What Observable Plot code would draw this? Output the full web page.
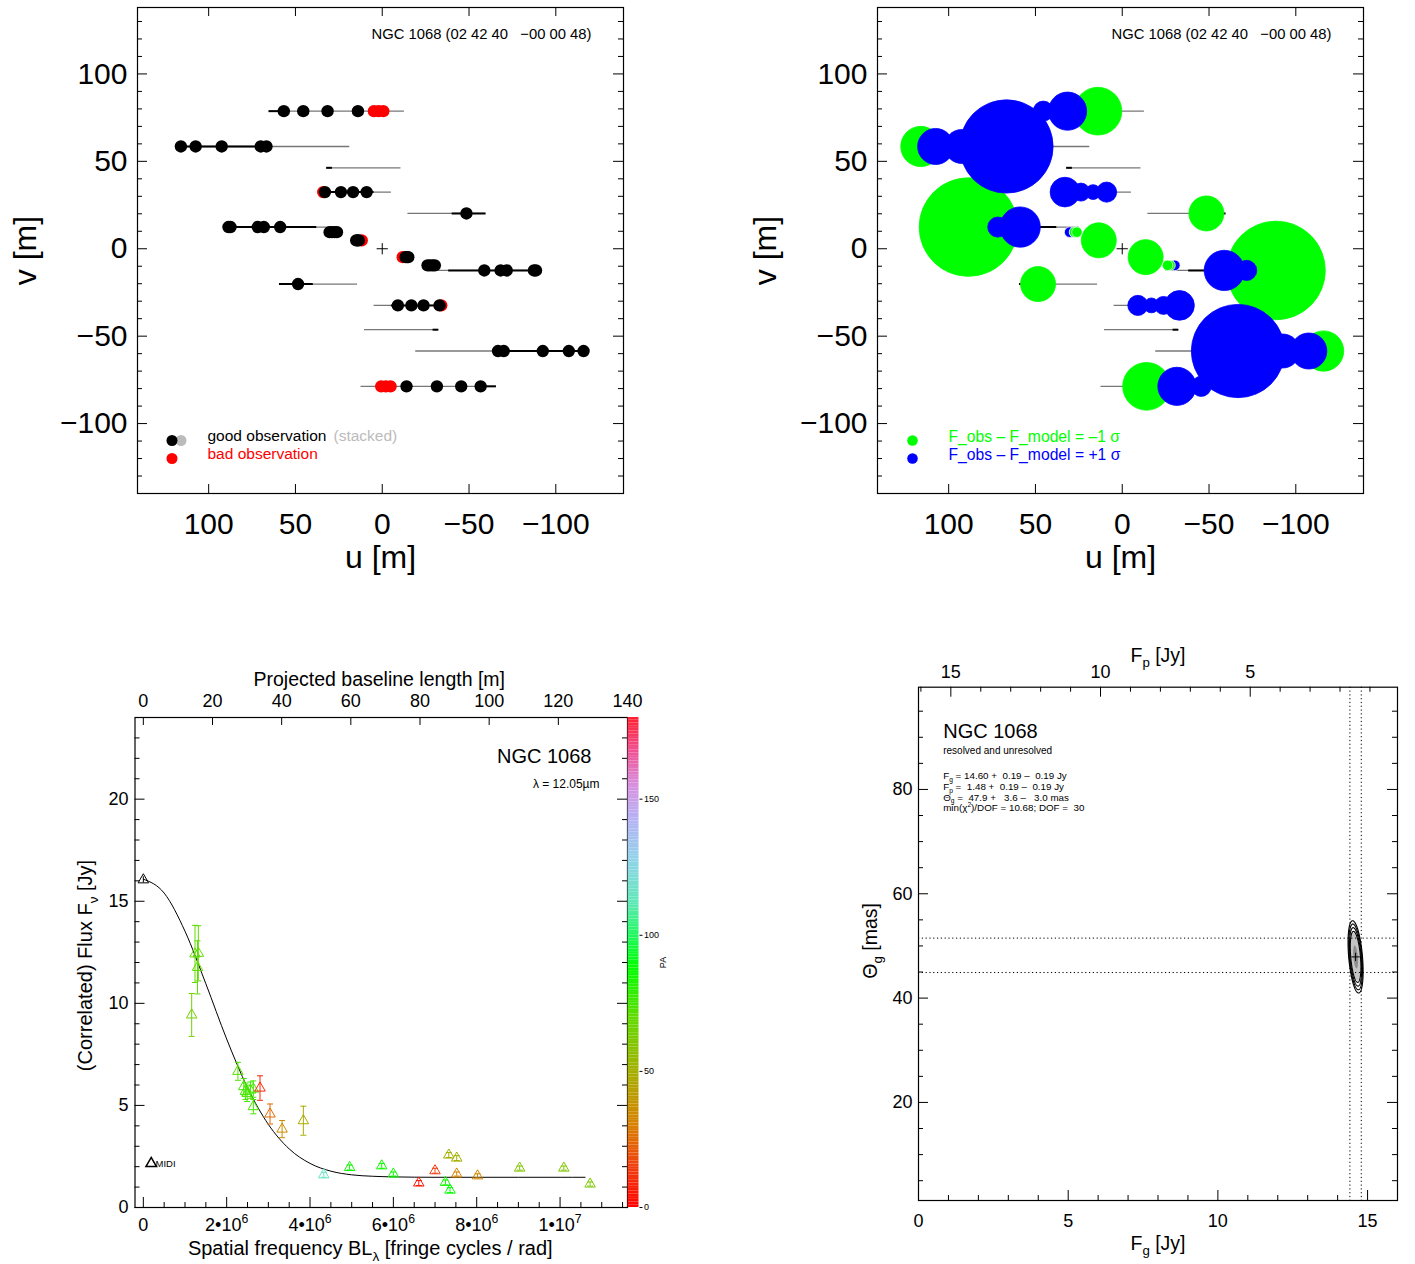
<!DOCTYPE html>
<html>
<head>
<meta charset="utf-8">
<script src="https://cdn.jsdelivr.net/npm/d3@7"></script>
<script src="https://cdn.jsdelivr.net/npm/@observablehq/plot@0.6"></script>
<style>
html, body { margin:0; padding:0; background:#fff; }
#root { position:relative; width:1415px; height:1264px; overflow:hidden; background:#fff; }
.panel { position:absolute; }
.panel svg { display:block; max-width:none; }
</style>
</head>
<body>
<div id="root"></div>
<script>
// ====================== DATA ======================
const objectHeader = "NGC 1068 (02 42 40\u00a0\u00a0\u00a0\u221200 00 48)";

// uv tracks (upper half; the conjugate (-u,-v) is drawn too)
const trackV        = [78.7, 58.5, 46.3, 32.4, 20.2, 12.4];
const trackFrom     = [65.5, 118.5, 32.3, 35, -14.5, 90];
const trackTo       = [-12.5, 19, -10.5, -5, -59.5, 25];
const trackObsFrom  = [65.5, 118.5, 32.3, 35, -40, 90];
const trackObsTo    = [58, 65, 29, 5, -59.5, 38];

// observations (upper half)
const goodU = [56.7, 45.5, 31.5, 14, 116, 107.5, 92.5, 70, 66.7, 33, 23.8, 16.8, 9, -48.5, 88.6, 87.4, 71.7, 68.2, 58.8, 30.3, 29, 27.5, 26.1, 15, 14.3, 13.5];
const goodV = [78.7, 78.7, 78.7, 78.7, 58.5, 58.5, 58.5, 58.5, 58.5, 32.4, 32.4, 32.4, 32.4, 20.2, 12.4, 12.4, 12.4, 12.4, 12.4, 9.5, 9.5, 9.5, 9.5, 4.8, 4.8, 4.8];
const badU  = [4.8, 2.1, -0.6, 34, 11.8];
const badV  = [78.7, 78.7, 78.7, 32.4, 4.8];

// residuals F_obs - F_model in units of sigma (upper half, in drawing order)
const resU     = [88.6, 71.7, 58.8, 66.7, 92.5, 107.5, 116, 14, 31.5, 45.5, 33, 23.8, 16.8, 9, -48.5, 30.3, 27.5, 26.1, 13.5];
const resV     = [12.4, 12.4, 12.4, 58.5, 58.5, 58.5, 58.5, 78.7, 78.7, 78.7, 32.4, 32.4, 32.4, 32.4, 20.2, 9.5, 9.5, 9.5, 4.8];
const resSigma = [-9.3, 1.9, 3.8, 8.8, 3.2, 3.4, -3.8, -4.5, 3.6, 1.9, 2.8, 1.7, 1.4, 1.9, -3.3, 1.0, -1.0, -1.0, -3.3];

// correlated flux vs spatial frequency (q in units of 1e6 fringe cycles / rad)
const lambdaMicron = 12.05;
const midiQ = [0], midiF = [16.05], midiErr = [0.15];
const fluxQ   = [1.16, 1.24, 1.32, 1.30, 2.27, 2.41, 2.45, 2.49, 2.57, 2.64, 2.64, 2.80, 3.04, 3.33, 3.84, 4.33, 4.95, 5.72, 6.00, 6.61, 7.00, 7.25, 7.36, 7.33, 7.52, 7.52, 8.02, 9.03, 10.09, 10.72];
const fluxF   = [9.43, 12.42, 12.45, 11.76, 6.67, 5.92, 5.69, 5.59, 5.75, 5.80, 4.94, 5.85, 4.58, 3.84, 4.25, 1.60, 1.96, 2.04, 1.64, 1.20, 1.80, 1.23, 0.85, 2.57, 2.42, 1.64, 1.55, 1.93, 1.93, 1.15];
const fluxErr = [1.05, 1.4, 1.35, 1.3, 0.44, 0.4, 0.4, 0.4, 0.4, 0.4, 0.35, 0.6, 0.49, 0.42, 0.71, 0.12, 0.12, 0.12, 0.1, 0.12, 0.12, 0.12, 0.12, 0.12, 0.12, 0.1, 0.1, 0.1, 0.1, 0.1];
const fluxPA  = [65, 70, 70, 70, 72, 75, 75, 74, 76, 75, 75, 10, 25, 35, 48, 115, 85, 85, 86, 5, 15, 85, 88, 50, 50, 30, 33, 60, 60, 62];
// model curve
const curveQ = [0, 0.5, 1.0, 1.5, 2.0, 2.5, 3.0, 3.5, 4.0, 4.5, 5.0, 5.5, 6.0, 7.0, 8.0, 9.0, 10.0, 10.6];
const curveF = [16.08, 15.40, 13.53, 10.96, 8.25, 5.87, 4.07, 2.87, 2.16, 1.78, 1.60, 1.53, 1.50, 1.48, 1.48, 1.48, 1.48, 1.48];
// PA colour bar
const paStops  = [0, 15, 30, 50, 70, 88, 100, 112, 127, 142, 155, 168, 180];
const paColors = ["#ff0000", "#f04010", "#d88000", "#a4b000", "#60dc00", "#00ff00", "#20f860", "#60e8b8", "#90d4e8", "#b4b4f4", "#d890e0", "#f05090", "#ff2030"];
const paTicks = [0, 50, 100, 150];
const baselineTicks = [0, 20, 40, 60, 80, 100, 120, 140];

// fit results (bottom-right)
const fitNames  = ["F_{g}", "F_{p}", "\u0398_{g}"];
const fitVal    = [14.60, 1.48, 47.9];
const fitPlus   = [0.19, 0.19, 3.6];
const fitMinus  = [0.19, 0.19, 3.0];
const fitUnits  = ["Jy", "Jy", "mas"];
const fitDigits = [2, 2, 1];
const chi2dof = 10.68, dof = 30;
// chi2 contour shape: levels in units of the base ellipse
const contourLevels = [2.2, 2.0, 1.78, 1.55];
const shadeLevels = [1.45, 0.7];
const ellA = 3.15;    // mas (Theta_g semi-axis of base ellipse)
const ellB = 0.105;   // Jy  (F_g semi-axis of base ellipse)
const ellTilt = -0.0145; // Jy per mas

// ====================== HELPERS ======================
const FONT = '"Liberation Sans", Arial, Helvetica, sans-serif';
const root = document.getElementById("root");

function richText(svg) {
  svg.querySelectorAll("text").forEach(t => {
    const s = t.textContent;
    if (!/[_^]\{/.test(s)) return;
    const fs = parseFloat(getComputedStyle(t).fontSize) || 12;
    const parts = s.split(/([_^]\{[^}]*\})/).filter(p => p.length);
    while (t.firstChild) t.removeChild(t.firstChild);
    let shift = 0;
    for (const p of parts) {
      const ts = document.createElementNS("http://www.w3.org/2000/svg", "tspan");
      let target = 0, txt = p;
      if (p.startsWith("_{")) { target = 0.28 * fs; txt = p.slice(2, -1); ts.setAttribute("font-size", 0.68 * fs); }
      else if (p.startsWith("^{")) { target = -0.45 * fs; txt = p.slice(2, -1); ts.setAttribute("font-size", 0.68 * fs); }
      if (target !== shift) ts.setAttribute("dy", target - shift);
      shift = target;
      ts.textContent = txt;
      t.appendChild(ts);
    }
  });
}
function place(svg, left, top, w) {
  const d = document.createElement("div");
  d.className = "panel";
  d.style.left = left + "px"; d.style.top = top + "px"; d.style.width = w + "px";
  d.appendChild(svg); root.appendChild(d);
  richText(svg);
}
const ticksBottom = (vals, H, len) => Plot.ruleX(vals, {insetTop: H - len, stroke: "black"});
const ticksTop    = (vals, H, len) => Plot.ruleX(vals, {insetBottom: H - len, stroke: "black"});
const ticksLeft   = (vals, W, len) => Plot.ruleY(vals, {insetRight: W - len, stroke: "black"});
const ticksRight  = (vals, W, len) => Plot.ruleY(vals, {insetLeft: W - len, stroke: "black"});
const label = (txt, o) => Plot.text([txt], {lineAnchor: "middle", textAnchor: "middle", ...o});

// ====================== uv PANELS ======================
const trackRows = [];
trackV.forEach((v, i) => {
  trackRows.push({v, u1: trackFrom[i], u2: trackTo[i], b1: trackObsFrom[i], b2: trackObsTo[i]});
  trackRows.push({v: -v, u1: -trackFrom[i], u2: -trackTo[i], b1: -trackObsFrom[i], b2: -trackObsTo[i]});
});
const conj = (us, vs, ss) => us.flatMap((u, i) => [
  {u, v: vs[i], s: ss ? ss[i] : null}, {u: -u, v: -vs[i], s: ss ? ss[i] : null}
]);
const goodPts = conj(goodU, goodV);
const badPts = conj(badU, badV);
const resPts = conj(resU, resV, resSigma);
const origin = [{u: 0, v: 0}];

function uvPanel(kind) {
  const W = 486, H = 486;
  const yMaj = [-100, -50, 0, 50, 100];
  const yMin = d3.range(-130, 131, 10).filter(v => v % 50 !== 0);
  const xMaj = [100, 50, 0, -50, -100];
  const marks = [
    Plot.link(trackRows, {x1: "u1", x2: "u2", y1: "v", y2: "v", stroke: "#777", strokeWidth: 1.3}),
    Plot.link(trackRows, {x1: "b1", x2: "b2", y1: "v", y2: "v", stroke: "#000", strokeWidth: 2})
  ];
  if (kind === "obs") {
    marks.push(
      Plot.dot(badPts, {x: "u", y: "v", r: 6.2, fill: "#ff0000"}),
      Plot.dot(goodPts, {x: "u", y: "v", r: 6.2, fill: "#000000"}),
      Plot.dot([1], {frameAnchor: "top-left", dx: 43.5, dy: 433, r: 5.5, fill: "#bbbbbb"}),
      Plot.dot([1], {frameAnchor: "top-left", dx: 34.5, dy: 433, r: 5.5, fill: "#000000"}),
      Plot.dot([1], {frameAnchor: "top-left", dx: 34.5, dy: 451, r: 5.5, fill: "#ff0000"}),
      label("good observation", {frameAnchor: "top-left", textAnchor: "start", dx: 70, dy: 429, fontSize: 15.5, fill: "#000"}),
      label("(stacked)", {frameAnchor: "top-left", textAnchor: "start", dx: 196, dy: 429, fontSize: 15.5, fill: "#bbbbbb"}),
      label("bad observation", {frameAnchor: "top-left", textAnchor: "start", dx: 70, dy: 447, fontSize: 15.5, fill: "#ff0000"})
    );
  } else {
    marks.push(
      Plot.dot(resPts, {x: "u", y: "v", r: d => Math.abs(d.s),
        fill: d => d.s < 0 ? "#00ff00" : "#0000ff",
        stroke: d => Math.abs(d.s) <= 1.05 ? "#ffffff" : (d.s < 0 ? "#00ff00" : "#0000ff"), strokeWidth: 0.8}),
      Plot.dot([1], {frameAnchor: "top-left", dx: 35, dy: 433, r: 5.3, fill: "#00ff00"}),
      Plot.dot([1], {frameAnchor: "top-left", dx: 35, dy: 451, r: 5.3, fill: "#0000ff"}),
      label("F_obs \u2013 F_model = \u20131 \u03c3", {frameAnchor: "top-left", textAnchor: "start", dx: 71, dy: 429, fontSize: 15.7, fill: "#00ff00"}),
      label("F_obs \u2013 F_model = +1 \u03c3", {frameAnchor: "top-left", textAnchor: "start", dx: 71, dy: 447, fontSize: 15.7, fill: "#0000ff"})
    );
  }
  marks.push(
    Plot.dot(origin, {x: "u", y: "v", symbol: "plus", r: 3.7, stroke: "black", strokeWidth: 1}),
    label(objectHeader, {frameAnchor: "top-right", textAnchor: "end", dx: -32, dy: 27, fontSize: 14.8}),
    Plot.frame({stroke: "black", strokeWidth: 1.2}),
    ticksLeft(yMaj, W, 10), ticksLeft(yMin, W, 5),
    ticksRight(yMaj, W, 10), ticksRight(yMin, W, 5),
    ticksBottom(xMaj, H, 9), ticksTop(xMaj, H, 9),
    Plot.axisX({anchor: "bottom", ticks: xMaj, tickSize: 0, tickPadding: 19, fontSize: 30, label: null}),
    Plot.axisY({anchor: "left", ticks: yMaj, tickSize: 0, tickPadding: 10, fontSize: 30, label: null}),
    label("u [m]", {frameAnchor: "bottom", dy: 64, fontSize: 32}),
    label("v [m]", {frameAnchor: "left", dx: -112, dy: 0, rotate: -90, fontSize: 32})
  );
  return Plot.plot({
    width: kind === "obs" ? 700 : 675, height: 590,
    marginLeft: 137, marginRight: kind === "obs" ? 77 : 52, marginTop: 7, marginBottom: 97,
    x: {domain: [141, -139], label: null},
    y: {domain: [-140, 138], label: null},
    r: {type: "linear", domain: [0, 1], range: [0, 5.3]},
    style: {fontFamily: FONT, fontSize: "30px", background: "transparent", color: "black", overflow: "visible"},
    marks
  });
}
place(uvPanel("obs"), 0, 0, 700);
place(uvPanel("res"), 740, 0, 675);

// ====================== FLUX PANEL ======================
const colorOpts = {type: "linear", domain: paStops, range: paColors, interpolate: "rgb"};
const fluxPts = fluxQ.map((q, i) => ({q, f: fluxF[i], e: fluxErr[i], pa: fluxPA[i]}));
const midiPts = midiQ.map((q, i) => ({q, f: midiF[i], e: midiErr[i]}));
const curvePts = curveQ.map((q, i) => ({q, f: curveF[i]}));
const capSymbol = {draw(ctx) { ctx.moveTo(-3, 0); ctx.lineTo(3, 0); }};
{
  const W = 492.5, H = 490;
  const qMax = 140 / lambdaMicron;
  const xMaj = [0, 2, 4, 6, 8, 10];
  const xMin = d3.range(0.5, 11.6, 0.5).filter(v => v % 2 !== 0);
  const yMaj = [0, 5, 10, 15, 20];
  const yMin = d3.range(1, 24, 1).filter(v => v % 5 !== 0);
  const topTicks = baselineTicks.map(b => b / lambdaMicron);
  const svg = Plot.plot({
    width: 700, height: 624,
    marginLeft: 134.5, marginRight: 73, marginTop: 77, marginBottom: 57,
    x: {domain: [-0.2, qMax], label: null},
    y: {domain: [0, 24], label: null},
    color: colorOpts,
    style: {fontFamily: FONT, fontSize: "18px", background: "transparent", color: "black", overflow: "visible"},
    marks: [
      Plot.line(curvePts, {x: "q", y: "f", curve: "monotone-x", stroke: "black", strokeWidth: 1}),
      Plot.ruleX(fluxPts, {x: "q", y1: d => d.f - d.e, y2: d => d.f + d.e, stroke: "pa", strokeWidth: 1}),
      Plot.dot(fluxPts, {x: "q", y: d => d.f - d.e, symbol: capSymbol, stroke: "pa", fill: "none", strokeWidth: 1}),
      Plot.dot(fluxPts, {x: "q", y: d => d.f + d.e, symbol: capSymbol, stroke: "pa", fill: "none", strokeWidth: 1}),
      Plot.dot(fluxPts, {x: "q", y: "f", symbol: "triangle", r: 3.9, stroke: "pa", fill: "none", strokeWidth: 1}),
      Plot.ruleX(midiPts, {x: "q", y1: d => d.f - d.e, y2: d => d.f + d.e, stroke: "black"}),
      Plot.dot(midiPts, {x: "q", y: "f", symbol: "triangle", r: 3.9, stroke: "black", fill: "none", strokeWidth: 1}),
      Plot.dot([1], {frameAnchor: "bottom-left", dx: 16.2, dy: -44, symbol: "triangle", r: 3.9, stroke: "black", fill: "none"}),
      label("MIDI", {frameAnchor: "bottom-left", textAnchor: "start", dx: 20.5, dy: -44, fontSize: 9.5}),
      label("NGC 1068", {frameAnchor: "top-right", textAnchor: "end", dx: -36, dy: 39, fontSize: 20}),
      label("\u03bb = " + lambdaMicron.toFixed(2) + "\u00b5m", {frameAnchor: "top-right", textAnchor: "end", dx: -28, dy: 67, fontSize: 12}),
      Plot.frame({stroke: "black", strokeWidth: 1.2}),
      ticksBottom(xMaj, H, 10), ticksBottom(xMin, H, 5),
      ticksTop(topTicks, H, 8),
      ticksLeft(yMaj, W, 10), ticksLeft(yMin, W, 5),
      ticksRight(yMaj, W, 10), ticksRight(yMin, W, 5),
      Plot.axisX({anchor: "bottom", ticks: xMaj, tickSize: 0, tickPadding: 10.5, fontSize: 18, label: null,
        tickFormat: d => d === 0 ? "0" : d === 10 ? "1\u202210^{7}" : `${d}\u202210^{6}`}),
      Plot.axisX({anchor: "top", ticks: topTicks, tickSize: 0, tickPadding: 11, fontSize: 18, label: null,
        tickFormat: d => String(Math.round(d * lambdaMicron))}),
      Plot.axisY({anchor: "left", ticks: yMaj, tickSize: 0, tickPadding: 6.5, fontSize: 18, label: null}),
      label("Spatial frequency BL_{\u03bb} [fringe cycles / rad]", {frameAnchor: "bottom", dx: -11, dy: 41, fontSize: 20}),
      label("Projected baseline length [m]", {frameAnchor: "top", dx: -2, dy: -38, fontSize: 19.5}),
      label("(Correlated) Flux F_{\u03bd} [Jy]", {frameAnchor: "left", dx: -49.5, dy: 3, rotate: -90, fontSize: 20})
    ]
  });
  place(svg, 0, 640, 700);

  // colour bar
  const paBins = d3.range(0, 180, 1);
  const bar = Plot.plot({
    width: 100, height: 624,
    marginLeft: 27.5, marginRight: 61.5, marginTop: 77, marginBottom: 57,
    x: {domain: [0, 1], axis: null},
    y: {domain: [0, 180], label: null},
    color: colorOpts,
    style: {fontFamily: FONT, fontSize: "9px", background: "transparent", color: "black", overflow: "visible"},
    marks: [
      Plot.rect(paBins, {x1: () => 0, x2: () => 1, y1: d => d, y2: d => d + 1, fill: d => d + 0.5}),
      Plot.axisY({anchor: "right", ticks: paTicks, tickSize: 3, tickPadding: 2, fontSize: 9, label: null}),
      label("PA", {frameAnchor: "right", dx: 24, dy: 0, rotate: -90, fontSize: 9})
    ]
  });
  place(bar, 600, 640, 100);
}

// ====================== FIT PANEL ======================
{
  const W = 479, H = 513.3;
  const fTot = fitVal[0] + fitVal[1];
  const ellT = d3.range(0, 2 * Math.PI + 1e-9, Math.PI / 90);
  const ellipse = m => ellT.map(t => ({
    fg: fitVal[0] + m * ellB * Math.cos(t) + ellTilt * m * ellA * Math.sin(t),
    th: fitVal[2] + m * ellA * Math.sin(t), m
  }));
  const shadeColors = ["#c4c4c4", "#8e8e8e"];
  const fgBand = [fitVal[0] - fitMinus[0], fitVal[0] + fitPlus[0]];
  const thBand = [fitVal[2] - fitMinus[2], fitVal[2] + fitPlus[2]];
  const pad = (x, n) => "\u00a0".repeat(Math.max(0, n - x.length)) + x;
  const fitLines = fitNames.map((n, i) =>
    `${n} = ${pad(fitVal[i].toFixed(fitDigits[i]), 5)} + ${pad(fitPlus[i].toFixed(fitDigits[i]), 5)} \u2013 ${pad(fitMinus[i].toFixed(fitDigits[i]), 5)} ${fitUnits[i]}`);
  fitLines.push(`min(\u03c7^{2})/DOF = ${chi2dof.toFixed(2)}; DOF = ${pad(String(dof), 3)}`);
  const xMaj = [0, 5, 10, 15], xMin = d3.range(1, 16, 1).filter(v => v % 5 !== 0);
  const fpMaj = [5, 10, 15], fpMin = d3.range(1, 17, 1).filter(v => v % 5 !== 0);
  const topMaj = fpMaj.map(p => fTot - p), topMin = fpMin.map(p => fTot - p).filter(v => v > 0 && v < 16);
  const yMaj = [20, 40, 60, 80], yMin = d3.range(5, 100, 5).filter(v => v % 20 !== 0);
  const marks = [];
  shadeLevels.forEach((m, i) => marks.push(Plot.line(ellipse(m), {x: "fg", y: "th", fill: shadeColors[i], stroke: "none"})));
  contourLevels.forEach(m => marks.push(Plot.line(ellipse(m), {x: "fg", y: "th", stroke: "black", strokeWidth: 1.1})));
  marks.push(
    Plot.ruleX(fgBand, {stroke: "black", strokeDasharray: "1.2,2.6", strokeWidth: 1}),
    Plot.ruleY(thBand, {stroke: "black", strokeDasharray: "1.2,2.6", strokeWidth: 1}),
    Plot.dot([{fg: fitVal[0], th: fitVal[2]}], {x: "fg", y: "th", symbol: "plus", r: 2.8, stroke: "black", strokeWidth: 1}),
    label("NGC 1068", {frameAnchor: "top-left", textAnchor: "start", dx: 24.7, dy: 44.3, fontSize: 20}),
    label("resolved and unresolved", {frameAnchor: "top-left", textAnchor: "start", dx: 24.7, dy: 63.3, fontSize: 10}),
    ...fitLines.map((t, i) => label(t, {frameAnchor: "top-left", textAnchor: "start", dx: 24.7, dy: 89 + i * 10.7, fontSize: 9.8})),
    Plot.frame({stroke: "black", strokeWidth: 1.2}),
    ticksBottom(xMaj, H, 10), ticksBottom(xMin, H, 5),
    ticksTop(topMaj, H, 10), ticksTop(topMin, H, 5),
    ticksLeft(yMaj, W, 10), ticksLeft(yMin, W, 5),
    ticksRight(yMaj, W, 10), ticksRight(yMin, W, 5),
    Plot.axisX({anchor: "bottom", ticks: xMaj, tickSize: 0, tickPadding: 13.7, fontSize: 18, label: null}),
    Plot.axisX({anchor: "top", ticks: topMaj, tickSize: 0, tickPadding: 9, fontSize: 18, label: null,
      tickFormat: d => String(Math.round(fTot - d))}),
    Plot.axisY({anchor: "left", ticks: yMaj, tickSize: 0, tickPadding: 6, fontSize: 18, label: null}),
    label("F_{g} [Jy]", {frameAnchor: "bottom", dy: 43, fontSize: 19.5}),
    label("F_{p} [Jy]", {frameAnchor: "top", dy: -31.7, fontSize: 19.5}),
    label("\u0398_{g} [mas]", {frameAnchor: "left", dx: -48, dy: -3, rotate: -90, fontSize: 19.5})
  );
  const svg = Plot.plot({
    width: 635, height: 624,
    marginLeft: 138, marginRight: 18, marginTop: 46.7, marginBottom: 64,
    x: {domain: [0, 16], label: null},
    y: {domain: [1.2, 99.6], label: null},
    style: {fontFamily: FONT, fontSize: "18px", background: "transparent", color: "black", overflow: "visible"},
    marks
  });
  place(svg, 780, 640, 635);
}
</script>
</body>
</html>
